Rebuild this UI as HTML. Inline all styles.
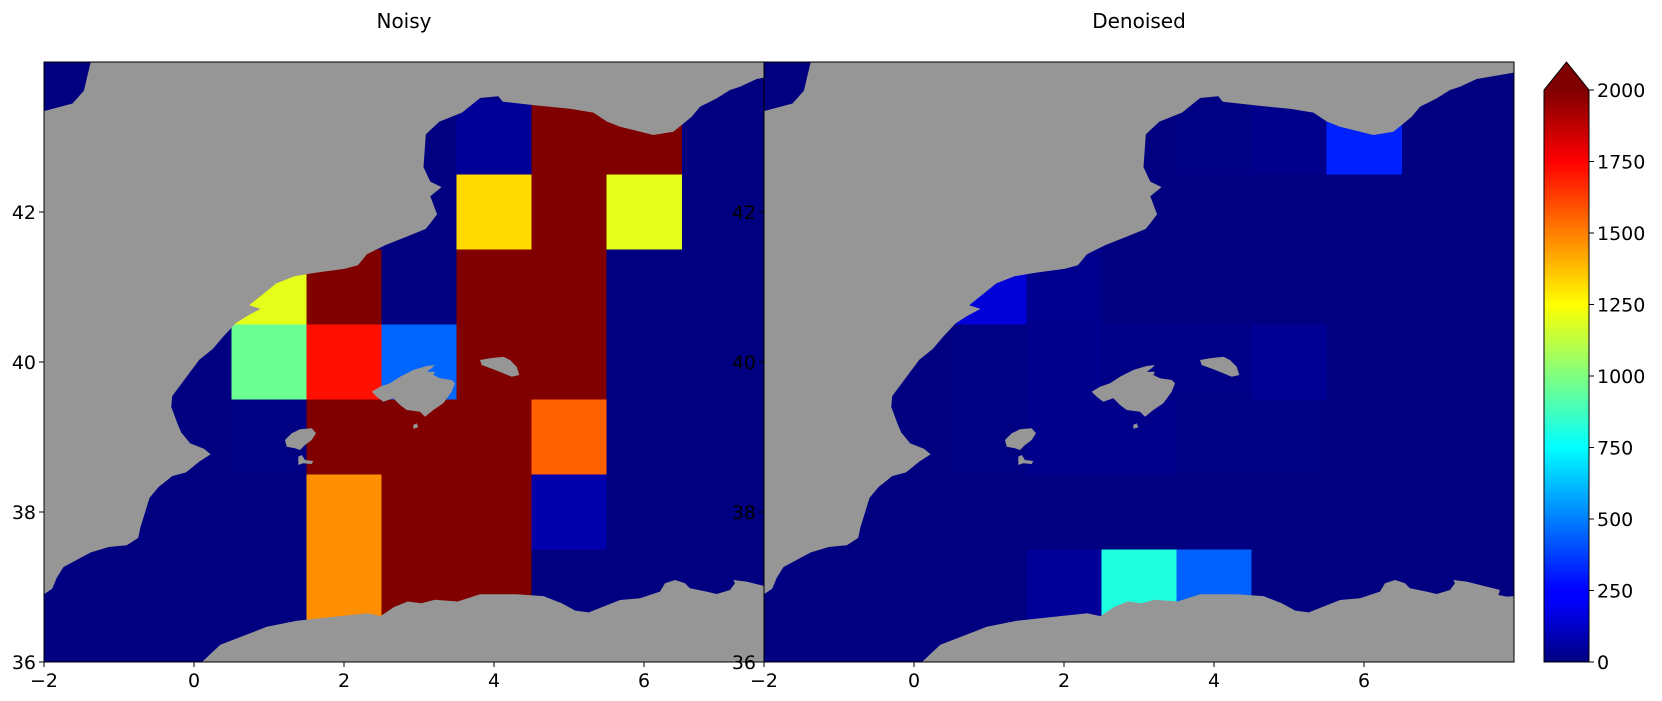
<!DOCTYPE html>
<html><head><meta charset="utf-8">
<style>
html,body{margin:0;padding:0;background:#fff;}
svg{display:block;font-family:"DejaVu Sans","Liberation Sans",sans-serif;}
</style></head>
<body>
<svg id="fig" width="1662" height="701" viewBox="0 0 1662 701" xmlns="http://www.w3.org/2000/svg">
<defs>
<clipPath id="clipL"><rect x="44" y="62" width="720" height="600"/></clipPath>
<clipPath id="clipR"><rect x="764" y="62" width="750" height="600"/></clipPath>
<linearGradient id="jetgrad" x1="0" y1="1" x2="0" y2="0">
<stop offset="0" stop-color="#00007f"/><stop offset="0.11" stop-color="#0000ff"/>
<stop offset="0.125" stop-color="#0000ff"/><stop offset="0.375" stop-color="#00ffff"/>
<stop offset="0.5" stop-color="#80ff80"/><stop offset="0.625" stop-color="#ffff00"/>
<stop offset="0.875" stop-color="#ff0000"/><stop offset="1" stop-color="#7f0000"/>
</linearGradient>
</defs>
<g id="panelL" clip-path="url(#clipL)"></g>
<g id="panelR" clip-path="url(#clipR)"></g>
<g id="axes"></g>
</svg>
<script>
// ---- data ----
const lons = [1, 2, 3, 4, 5, 6];
const lats = [43, 42, 41, 40, 39, 38, 37];
const noisyRow43 = [0, 0, 0, 50, 2500, 2500];
const noisyRow42 = [0, 0, 0, 1325, 2500, 1200];
const noisyRow41 = [1200, 2500, 0, 2500, 2500, 0];
const noisyRow40 = [960, 1720, 450, 2500, 2500, 0];
const noisyRow39 = [5, 2500, 2500, 2500, 1560, 0];
const noisyRow38 = [0, 1470, 2500, 2500, 90, 0];
const noisyRow37 = [0, 1470, 2500, 2500, 0, 0];
const denRow43 = [0, 0, 0, 10, 20, 315];
const denRow42 = [0, 0, 0, 0, 0, 0];
const denRow41 = [175, 30, 0, 0, 0, 0];
const denRow40 = [5, 25, 15, 15, 40, 0];
const denRow39 = [5, 25, 20, 5, 5, 0];
const denRow38 = [0, 0, 0, 0, 0, 0];
const denRow37 = [0, 50, 810, 440, 0, 0];
const xTicks = [-2, 0, 2, 4, 6];
const yTicks = [36, 38, 40, 42];
const cbTicks = [0, 250, 500, 750, 1000, 1250, 1500, 1750, 2000];
const vmax = 2000;

const noisy = [noisyRow43, noisyRow42, noisyRow41, noisyRow40, noisyRow39, noisyRow38, noisyRow37];
const den = [denRow43, denRow42, denRow41, denRow40, denRow39, denRow38, denRow37];

const NS = "http://www.w3.org/2000/svg";
const PX = 75, TOP = 62, BOT = 662;
function xs(x0){ return lon => x0 + (lon + 2) * PX; }
function ys(lat){ return TOP + (44 - lat) * PX; }
function jet(v){
  let t = Math.max(0, Math.min(1, v / vmax));
  const c = k => Math.round(255 * Math.max(0, Math.min(1, 1.5 - Math.abs(4 * t - k))));
  return `rgb(${c(3)},${c(2)},${c(1)})`;
}
function el(tag, attrs, parent){
  const e = document.createElementNS(NS, tag);
  for (const k in attrs) e.setAttribute(k, attrs[k]);
  parent.appendChild(e); return e;
}

// ---- coastline geometry (lon/lat) ----
const z2 = p => [-2 + (p[0] - 97) / 165.6, 44.053 - p[1] / 206.3];
const z5 = p => [5.68 + p[0] / 225, 44.093 - p[1] / 225];
const z6 = p => [5.68 + p[0] / 225, 37.227 - p[1] / 225];
const z7 = p => [1.1467 + p[0] / 225, 40.16 - p[1] / 225];

const biscay = [[100,145],[160,125],[185,90],[200,12],[205,-30]].map(z2);
const provence = [[525,52],[450,65],[410,72],[360,95],[330,105],[290,130],[240,155],[215,185],[185,210],[160,230],[100,240],[40,225],[0,215]].map(z5);
const medCoast = [[1340,175],[1310,150],[1260,140],[1180,130],[1110,120],[1100,105],[1060,110],[1020,150],[970,175],[940,210],[935,300],[950,340],[975,355],[950,380],[965,430],[940,470],[900,490],[850,515],[810,540],[790,570],[760,580],[700,590],[650,600],[610,620],[570,660],[550,680],[575,690],[545,710],[520,730],[490,770],[470,800],[440,830],[410,880],[380,930],[378,960],[390,1000],[400,1030],[420,1060],[450,1075],[465,1090],[440,1110],[410,1140],[380,1150],[350,1180],[330,1210],[320,1250],[310,1290],[305,1320],[280,1340],[240,1345],[200,1360],[170,1380],[140,1400],[125,1430],[115,1460],[97,1475]].map(z2);
const iberia = [[-2.1,43.35]].concat(biscay, [[8.2,44.5],[8.2,provence[0][1]]], provence, medCoast, [[-2.1,36.9]]);

const africa = [[0.107,36],[0.35,36.23],[0.97,36.47],[1.37,36.55],[2.31,36.65]]
  .concat([[840,1535],[870,1510],[900,1495],[930,1500],[960,1490],[1010,1495],[1060,1475],[1140,1475],[1200,1480],[1240,1500],[1270,1520],[1300,1525]].map(z2))
  .concat([[0,90],[60,85],[120,65],[135,40],[165,30],[195,40],[210,55],[260,65],[290,72],[330,60],[345,40],[340,30],[380,35],[420,45],[460,55],[480,60],[475,75],[500,80],[525,78]].map(z6))
  .concat([[8.2,36.88],[8.2,35.8],[0.05,35.8]]);

const mallorca = [[275,125],[300,110],[330,100],[360,80],[400,60],[440,48],[465,45],[455,55],[440,65],[465,65],[460,75],[480,85],[515,90],[525,100],[515,125],[490,160],[460,180],[435,200],[420,185],[380,180],[360,165],[340,145],[310,155],[290,140]].map(z7);
const ibiza = [[15,270],[35,250],[60,238],[95,235],[108,250],[95,270],[75,285],[60,300],[45,295],[20,290]].map(z7);
const formentera = [[55,320],[65,315],[75,330],[100,333],[95,342],[70,340],[55,345]].map(z7);
const cabrera = [[400,225],[410,220],[415,232],[400,236]].map(z7);
const menorca = [[600,30],[630,25],[670,20],[690,30],[710,50],[718,75],[695,80],[670,70],[640,58],[605,45]].map(z7);
const landShapes = [["iberia-france-land",iberia],["africa-land",africa],["mallorca",mallorca],["ibiza",ibiza],["formentera",formentera],["cabrera",cabrera],["menorca",menorca]];

function drawPanel(g, x0, grid, prefix){
  const X = xs(x0);
  const sea = el("rect", {x: x0 - 2, y: TOP, width: 800, height: 600, fill: jet(0)}, g);
  
  
  lats.forEach((lat, i) => {
    lons.forEach((lon, j) => {
      const r = el("rect", {x: X(lon - 0.5), y: ys(lat + 0.5), width: PX + 0.5, height: PX + 0.5, fill: jet(grid[i][j])}, g);
      
      
    });
  });
  landShapes.forEach(([nm, pts]) => {
    const p = el("polygon", {points: pts.map(q => X(q[0]).toFixed(1) + "," + ys(q[1]).toFixed(1)).join(" "), fill: "#969696"}, g);
    
    
  });
}
drawPanel(document.getElementById("panelL"), 44, noisy, "noisy");
drawPanel(document.getElementById("panelR"), 764, den, "denoised");

const ax = document.getElementById("axes");
function axesFrame(x0, w, title, prefix){
  const X = xs(x0);
  const f = el("rect", {x: x0, y: TOP, width: w, height: 600, fill: "none", stroke: "#000", "stroke-width": 1}, ax);
  
  
  const t = el("text", {x: x0 + w / 2, y: 28, "font-size": 20, "text-anchor": "middle"}, ax);
  t.textContent = title;
  
  
  xTicks.forEach(v => {
    const x = X(v);
    el("line", {x1: x, x2: x, y1: BOT, y2: BOT + 5, stroke: "#000"}, ax);
    const l = el("text", {x: x, y: BOT + 25, "font-size": 19, "text-anchor": "middle"}, ax);
    l.textContent = v < 0 ? "\u2212" + (-v) : String(v);
    
    
  });
  yTicks.forEach(v => {
    const y = ys(v);
    el("line", {x1: x0 - 5, x2: x0, y1: y, y2: y, stroke: "#000"}, ax);
    const l = el("text", {x: x0 - 8, y: y + 7, "font-size": 19, "text-anchor": "end"}, ax);
    l.textContent = String(v);
    
    
  });
}
axesFrame(44, 720, "Noisy", "noisy");
axesFrame(764, 750, "Denoised", "denoised");

// colorbar
const CB0 = 1544, CBW = 45, CBT = 90;
const cbY = v => BOT - (v / vmax) * (BOT - CBT);
const cb = el("rect", {x: CB0, y: CBT, width: CBW, height: BOT - CBT, fill: "url(#jetgrad)"}, ax);


const tri = el("polygon", {points: `${CB0},${CBT} ${CB0 + CBW / 2},62 ${CB0 + CBW},${CBT}`, fill: "#7f0000"}, ax);


el("path", {d: `M${CB0},${BOT} L${CB0},${CBT} L${CB0 + CBW / 2},62 L${CB0 + CBW},${CBT} L${CB0 + CBW},${BOT} Z`, fill: "none", stroke: "#000", "stroke-width": 1}, ax);
cbTicks.forEach(v => {
  const y = cbY(v);
  el("line", {x1: CB0 + CBW, x2: CB0 + CBW + 5, y1: y, y2: y, stroke: "#000"}, ax);
  const l = el("text", {x: CB0 + CBW + 8, y: y + 7, "font-size": 19}, ax);
  l.textContent = String(v);
  
  
});
</script>
</body></html>
